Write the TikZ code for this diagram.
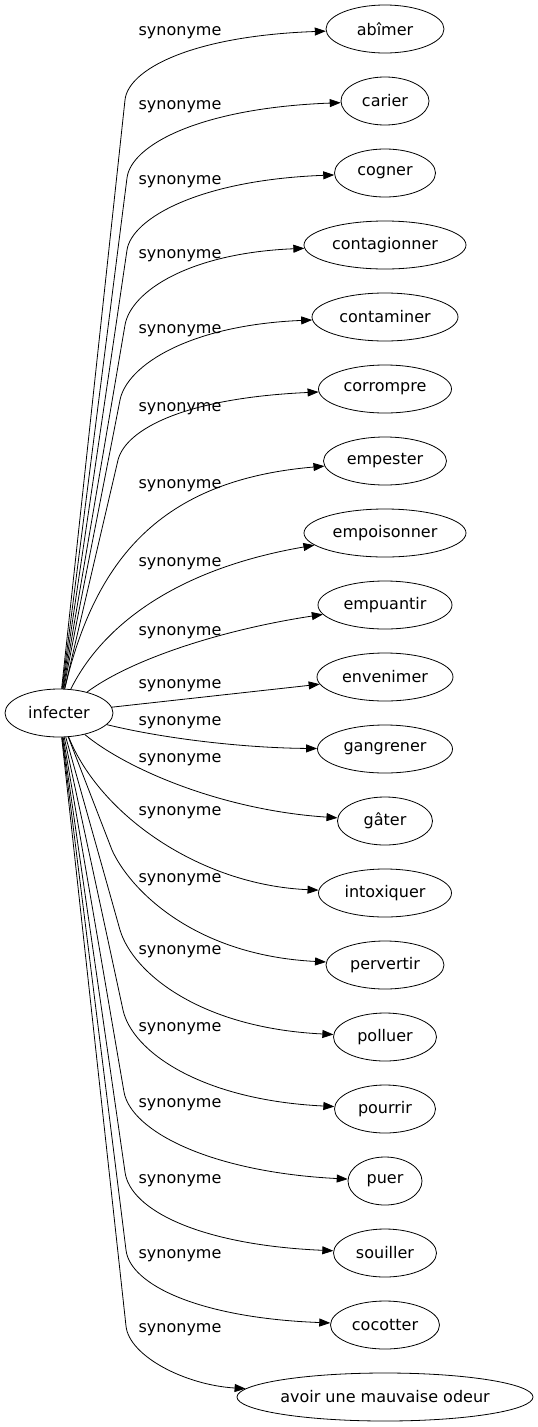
\documentclass[tikz,border=0pt]{standalone}
\usepackage{fontspec}
\setmainfont{DejaVu Sans}
\usetikzlibrary{arrows.meta,shapes.geometric}

\begin{document}
\begin{tikzpicture}[x=1pt,y=-1pt,>={Triangle[length=11pt,width=8pt]},
  term/.style={ellipse,draw,line width=0.8pt,inner xsep=-15pt,inner ysep=-4pt,minimum height=48pt,font=\fontsize{16}{19}\selectfont},
  lbl/.style={inner sep=0pt,font=\fontsize{16}{19}\selectfont},
  edge/.style={->,line width=0.8pt}]
  \useasboundingbox (0,0) rectangle (538,1427);
  % the word and its synonyms
  \node[term,minimum width=108pt] (infecter) at (59,713) {infecter};
  \node[term,minimum width=118pt] (abimer) at (385,29) {abîmer};
  \node[term,minimum width=88pt] (carier) at (385,101) {carier};
  \node[term,minimum width=101pt] (cogner) at (385,173) {cogner};
  \node[term,minimum width=162pt] (contagionner) at (385,245) {contagionner};
  \node[term,minimum width=146pt] (contaminer) at (385,317) {contaminer};
  \node[term,minimum width=133pt] (corrompre) at (385,389) {corrompre};
  \node[term,minimum width=123pt] (empester) at (385,461) {empester};
  \node[term,minimum width=162pt] (empoisonner) at (385,533) {empoisonner};
  \node[term,minimum width=134pt] (empuantir) at (385,605) {empuantir};
  \node[term,minimum width=136pt] (envenimer) at (385,677) {envenimer};
  \node[term,minimum width=135pt] (gangrener) at (385,749) {gangrener};
  \node[term,minimum width=95pt] (gater) at (385,821) {gâter};
  \node[term,minimum width=133pt] (intoxiquer) at (385,893) {intoxiquer};
  \node[term,minimum width=118pt] (pervertir) at (385,965) {pervertir};
  \node[term,minimum width=103pt] (polluer) at (385,1037) {polluer};
  \node[term,minimum width=101pt] (pourrir) at (385,1109) {pourrir};
  \node[term,minimum width=74pt] (puer) at (385,1181) {puer};
  \node[term,minimum width=103pt] (souiller) at (385,1253) {souiller};
  \node[term,minimum width=109pt] (cocotter) at (385,1325) {cocotter};
  \node[term,minimum width=296pt] (avoir) at (385,1397) {avoir une mauvaise odeur};
  % edge labels
  \node[lbl] (l0) at (180,33) {synonyme};
  \node[lbl] (l1) at (180,107) {synonyme};
  \node[lbl] (l2) at (180,182) {synonyme};
  \node[lbl] (l3) at (180,256) {synonyme};
  \node[lbl] (l4) at (180,331) {synonyme};
  \node[lbl] (l5) at (180,409) {synonyme};
  \node[lbl] (l6) at (180,486) {synonyme};
  \node[lbl] (l7) at (180,564) {synonyme};
  \node[lbl] (l8) at (180,633) {synonyme};
  \node[lbl] (l9) at (180,686) {synonyme};
  \node[lbl] (l10) at (180,723) {synonyme};
  \node[lbl] (l11) at (180,760) {synonyme};
  \node[lbl] (l12) at (180,813) {synonyme};
  \node[lbl] (l13) at (180,880) {synonyme};
  \node[lbl] (l14) at (180,952) {synonyme};
  \node[lbl] (l15) at (180,1029) {synonyme};
  \node[lbl] (l16) at (180,1105) {synonyme};
  \node[lbl] (l17) at (180,1181) {synonyme};
  \node[lbl] (l18) at (180,1256) {synonyme};
  \node[lbl] (l19) at (180,1330) {synonyme};
  % edges
  \draw[edge] (infecter) -- (125,100) .. controls (128,70) and (190,36) .. (abimer);
  \draw[edge] (infecter) -- (127,178) .. controls (131,145) and (200,108) .. (carier);
  \draw[edge] (infecter) -- (127,250) .. controls (132,218) and (200,180) .. (cogner);
  \draw[edge] (infecter) -- (125,325) .. controls (131,291) and (190,253) .. (contagionner);
  \draw[edge] (infecter) -- (120,400) .. controls (127,365) and (190,325) .. (contaminer);
  \draw[edge] (infecter) -- (118,460) .. controls (126,429) and (185,398) .. (corrompre);
  \draw[edge] (infecter) .. controls (95,560) and (160,480) .. (empester);
  \draw[edge] (infecter) .. controls (100,630) and (170,570) .. (empoisonner);
  \draw[edge] (infecter) .. controls (130,660) and (220,630) .. (empuantir);
  \draw[edge] (infecter) -- (envenimer);
  \draw[edge] (infecter) .. controls (170,740) and (250,748) .. (gangrener);
  \draw[edge] (infecter) .. controls (125,768) and (220,810) .. (gater);
  \draw[edge] (infecter) .. controls (100,815) and (200,885) .. (intoxiquer);
  \draw[edge] (infecter) -- (112,850) .. controls (128,886) and (190,955) .. (pervertir);
  \draw[edge] (infecter) -- (120,930) .. controls (133,973) and (200,1028) .. (polluer);
  \draw[edge] (infecter) -- (123,1010) .. controls (132,1051) and (200,1100) .. (pourrir);
  \draw[edge] (infecter) -- (124,1092) .. controls (131,1131) and (210,1172) .. (puer);
  \draw[edge] (infecter) -- (125,1172) .. controls (130,1210) and (200,1245) .. (souiller);
  \draw[edge] (infecter) -- (126,1250) .. controls (130,1285) and (200,1318) .. (cocotter);
  \draw[edge] (infecter) -- (126,1326) .. controls (129,1356) and (185,1385) .. (avoir);
\end{tikzpicture}
\end{document}
